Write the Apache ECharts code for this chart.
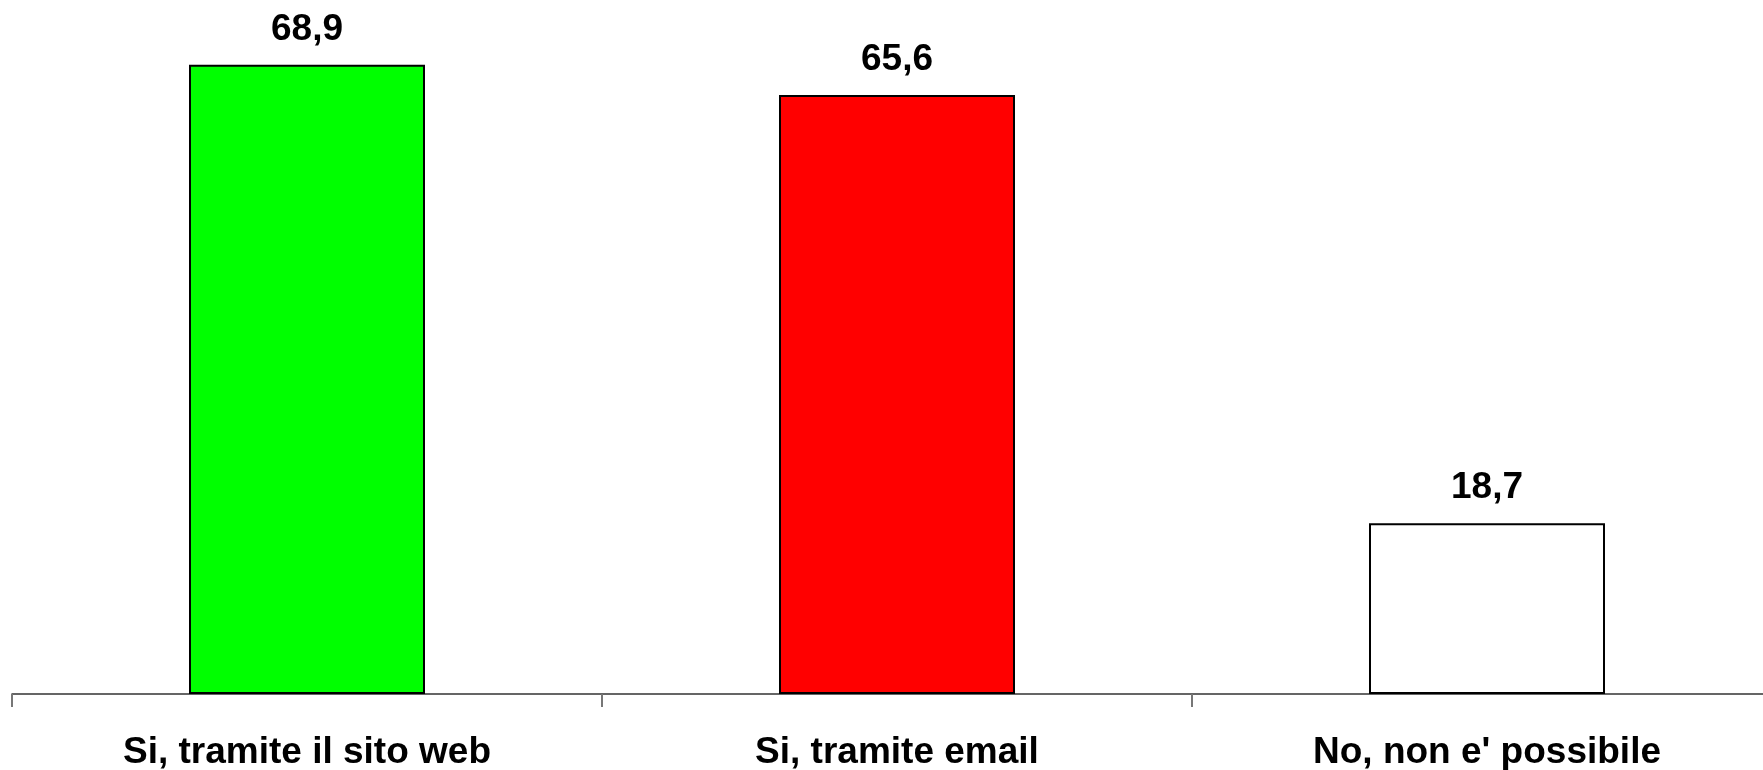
<!DOCTYPE html>
<html>
<head>
<meta charset="utf-8">
<script src="https://cdn.jsdelivr.net/npm/echarts@6/dist/echarts.min.js"></script>
<style>
html,body{margin:0;padding:0;background:#fff;}
#chart{width:1763px;height:770px;}
</style>
</head>
<body>
<div id="chart"></div>
<script>
const categories = ["Si, tramite il sito web", "Si, tramite email", "No, non e' possibile"];
const values = [68.9, 65.6, 18.7];
const barColors = ["#00ff00", "#ff0000", "#ffffff"];

const chart = echarts.init(document.getElementById('chart'));
chart.setOption({
  animation: false,
  backgroundColor: '#ffffff',
  grid: {left: 12, width: 1770, top: 0, bottom: 76, containLabel: false, outerBoundsMode: 'none'},
  xAxis: {
    type: 'category',
    data: categories,
    axisLine: {lineStyle: {color: '#333333', width: 1.5}},
    axisTick: {show: true, length: 13, lineStyle: {color: '#777777', width: 2}},
    axisLabel: {
      color: '#000000', fontFamily: 'Liberation Sans, Arial, sans-serif',
      fontWeight: 'bold', fontSize: 37, margin: 40,
      formatter: v => v
    }
  },
  yAxis: {type: 'value', min: 0, max: 76, show: false, splitLine: {show: false}},
  series: [{
    type: 'bar',
    barWidth: '40%',
    data: values.map((v, i) => ({value: v, itemStyle: {color: barColors[i]}})),
    itemStyle: {borderColor: '#000000', borderWidth: 2},
    label: {
      show: true, position: 'top', distance: 17,
      color: '#000000', fontFamily: 'Liberation Sans, Arial, sans-serif',
      fontWeight: 'bold', fontSize: 37,
      formatter: p => String(p.value).replace('.', ',')
    }
  }]
});
</script>
</body>
</html>
